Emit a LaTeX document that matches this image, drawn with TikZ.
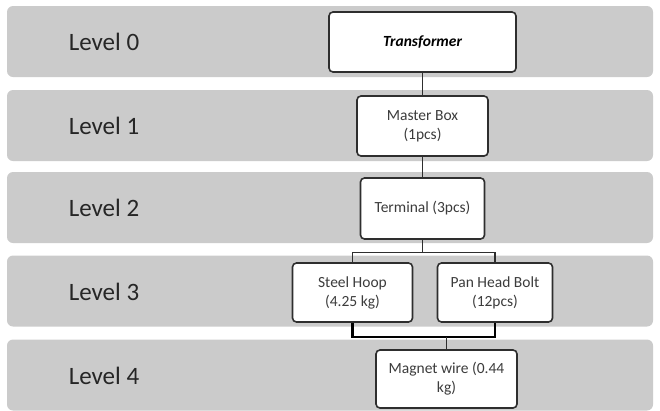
\documentclass[tikz,border=0pt]{standalone}
\usepackage{fontspec}
\setmainfont{Carlito}
\usepackage{tikz}
\usetikzlibrary{positioning, calc}
\usepackage{xcolor}
\definecolor{bandgrey}{HTML}{CBCBCB}
\definecolor{boxline}{HTML}{2E2E2E}
\definecolor{txtgrey}{HTML}{3C3C3C}
\definecolor{lvltxt}{HTML}{262626}

\begin{document}
\begin{tikzpicture}[
    x=1pt, y=-1pt,
    band/.style={fill=bandgrey, draw=none, rounded corners=6pt, minimum width=646pt,
                 minimum height=71pt, inner sep=0pt},
    lvl/.style={font=\fontsize{25}{28}\selectfont, text=lvltxt},
    part/.style={draw=boxline, line width=1.6pt, fill=white, rounded corners=4pt,
                 align=center, inner sep=2pt, font=\fontsize{15.5}{19}\selectfont,
                 text=txtgrey},
    link/.style={boxline, line width=1.4pt},
    bond/.style={black, line width=2.2pt}]
  \useasboundingbox (0,0) rectangle (660,410);
  % level bands
  \node[band] (b0) at (330,41.5) {};
  \node[band] (b1) at (330,125.5) {};
  \node[band] (b2) at (330,207.5) {};
  \node[band] (b3) at (330,291) {};
  \node[band] (b4) at (330,375) {};
  \node[lvl] (l0) at (104,42) {Level 0};
  \node[lvl] (l1) at (104,126) {Level 1};
  \node[lvl] (l2) at (104,208) {Level 2};
  \node[lvl] (l3) at (104,292) {Level 3};
  \node[lvl] (l4) at (104,376) {Level 4};
  % parts
  \node[part, minimum width=187pt, minimum height=60pt,
        font=\fontsize{15.5}{19}\selectfont\bfseries\itshape, text=black] (tr) at (422.5,42) {Transformer};
  \node[part, minimum width=131pt, minimum height=60pt] (mb) at (422.5,126) {Master Box\\(1pcs)};
  \node[part, minimum width=124pt, minimum height=61pt] (te) at (422.5,208.5) {Terminal (3pcs)};
  \node[part, minimum width=120pt, minimum height=59pt] (sh) at (352.5,292.5) {Steel Hoop\\(4.25 kg)};
  \node[part, minimum width=115pt, minimum height=59pt] (pb) at (495,292.5) {Pan Head Bolt\\(12pcs)};
  \node[part, minimum width=141pt, minimum height=58pt] (mw) at (446.5,379) {Magnet wire (0.44\\kg)};
  \coordinate (split) at (422.5,252.5);
  \coordinate (join) at (446.5,337);
  % links
  \draw[link] (tr) -- (mb);
  \draw[link] (mb) -- (te);
  \draw[link] (te) -- (split);
  \draw[link] (split) -| (sh.north);
  \draw[link] (split) -| (pb.north);
  \draw[bond] (sh.south) |- (join);
  \draw[bond] (pb.south) |- (join);
  \draw[link] (join) -- (mw.north);
\end{tikzpicture}
\end{document}
